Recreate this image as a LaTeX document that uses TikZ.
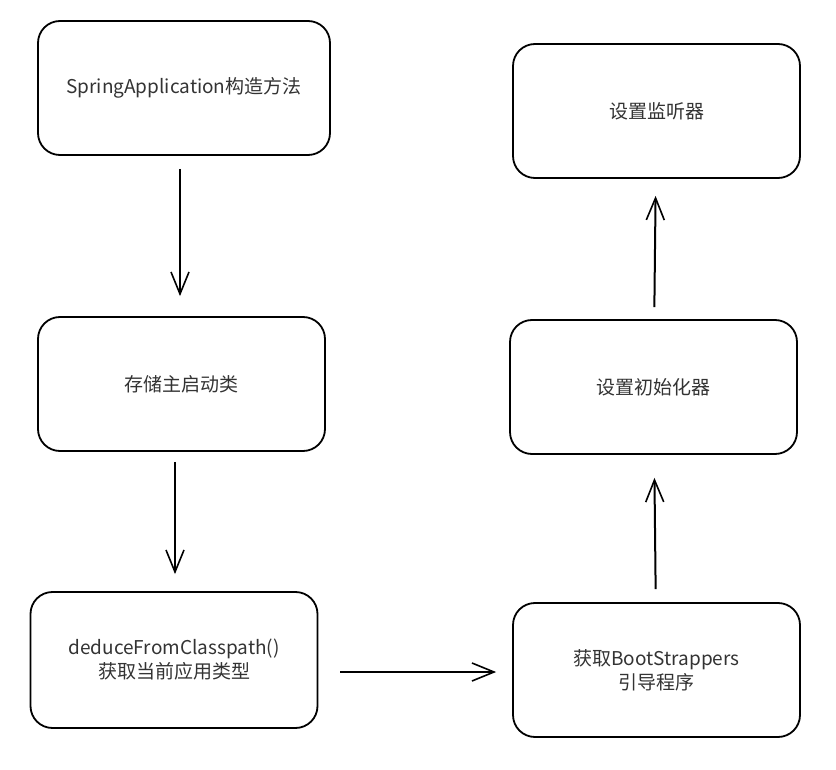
\documentclass[tikz,border=0pt]{standalone}
\usepackage{fontspec}
\setmainfont{Noto Sans CJK SC}
\usepackage{tikz}
\usetikzlibrary{arrows.meta}
\definecolor{txtgray}{HTML}{333333}

\begin{document}
\begin{tikzpicture}[x=1pt,y=-1pt,
  stepbox/.style={draw=black, line width=1.8pt, rounded corners=22pt,
    minimum width=287pt, minimum height=134pt, align=center,
    text=txtgray, font=\fontsize{19}{24}\selectfont},
  arr/.style={line width=2pt, -{Straight Barb[length=22pt,width=18pt,line width=1.6pt]}}]
\useasboundingbox (0,0) rectangle (836,770);
\node[stepbox, minimum width=292pt] (ctor) at (184,88) {SpringApplication构造方法};
\node[stepbox] (mainclass) at (181.5,384) {存储主启动类};
\node[stepbox, minimum height=136pt] (deduce) at (174,660) {deduceFromClasspath()\\获取当前应用类型};
\node[stepbox] (boot) at (656.5,670) {获取BootStrappers\\引导程序};
\node[stepbox] (init) at (653.5,387) {设置初始化器};
\node[stepbox] (listen) at (656.5,111) {设置监听器};
\draw[arr, shorten <=13pt, shorten >=20pt] ([xshift=-4pt]ctor.south) -- ([xshift=-1.5pt]mainclass.north);
\draw[arr, shorten <=10pt, shorten >=17pt] ([xshift=-6.5pt]mainclass.south) -- ([xshift=1pt]deduce.north);
\draw[arr] ([xshift=22pt,yshift=-12pt]deduce.east) -- ([xshift=-16pt,yshift=-2pt]boot.west);
\draw[arr, shorten <=13pt, shorten >=23pt] (boot) -- (init);
\draw[arr, shorten <=12pt, shorten >=17pt] (init) -- (listen);
\end{tikzpicture}
\end{document}
